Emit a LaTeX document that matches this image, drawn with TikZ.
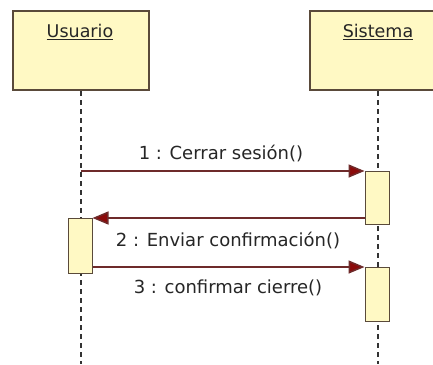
\documentclass[tikz,border=0pt]{standalone}
\usepackage{fontspec}
\setmainfont{DejaVu Sans}
\usetikzlibrary{arrows.meta}
\definecolor{boxfill}{HTML}{FFF9C4}
\definecolor{boxline}{HTML}{5A4A3A}
\definecolor{msgline}{HTML}{6E2A2A}
\definecolor{tipcol}{HTML}{8B0A0A}
\definecolor{lifecol}{HTML}{333333}
\tikzset{
  objbox/.style={draw=boxline, line width=2pt, fill=boxfill, minimum width=136pt, minimum height=79pt, inner sep=0pt, anchor=north},
  objlabel/.style={font=\fontsize{17.5}{19}\selectfont, text=black!85, anchor=north, inner sep=0pt},
  actbox/.style={draw=boxline, line width=1pt, fill=boxfill, minimum width=24pt, inner sep=0pt, anchor=north},
  lifeline/.style={draw=lifecol, line width=1.6pt, dash pattern=on 5pt off 4pt},
  msg/.style={draw=msgline, line width=1.5pt, -{Triangle[length=16pt,width=13pt,fill=tipcol]}, shorten >=0pt},
  msglabel/.style={font=\fontsize{18}{20}\selectfont, text=black!85, inner sep=0pt}
}
\begin{document}
\begin{tikzpicture}[x=1pt,y=-1pt]
\useasboundingbox (0,0) rectangle (433,364);
\fill[white] (0,0) rectangle (433,364);
% object boxes
\node[objbox] (usuario) at (81,10) {};
\node[objbox] (sistema) at (378,10) {};
\node[objlabel] (usuariolbl) at (80,24) {\underline{Usuario}};
\node[objlabel] (sistemalbl) at (378,24) {\underline{Sistema}};
% lifelines
\coordinate (uend) at (81,364);
\coordinate (send) at (378,364);
\draw[lifeline] (usuario.south) -- (uend);
\draw[lifeline] (sistema.south) -- (send);
% activation boxes
\node[actbox, minimum height=53pt] (act1) at (377,171) {};
\node[actbox, minimum height=55pt] (act2) at (80,218) {};
\node[actbox, minimum height=54pt] (act3) at (377,267) {};
% messages
\coordinate (m1s) at (81,171);
\draw[msg] (m1s) -- (act1.north west);
\coordinate (m2s) at (365,218);
\draw[msg] (m2s) -- (act2.north east);
\draw[msg] ([yshift=-49pt]act2.north east) -- (act3.north west);
% labels
\node[msglabel] (l1) at (221,153) {1 : Cerrar sesión()};
\node[msglabel] (l2) at (228,240) {2 : Enviar confirmación()};
\node[msglabel] (l3) at (228,288) {3 : confirmar cierre()};
\end{tikzpicture}
\end{document}
